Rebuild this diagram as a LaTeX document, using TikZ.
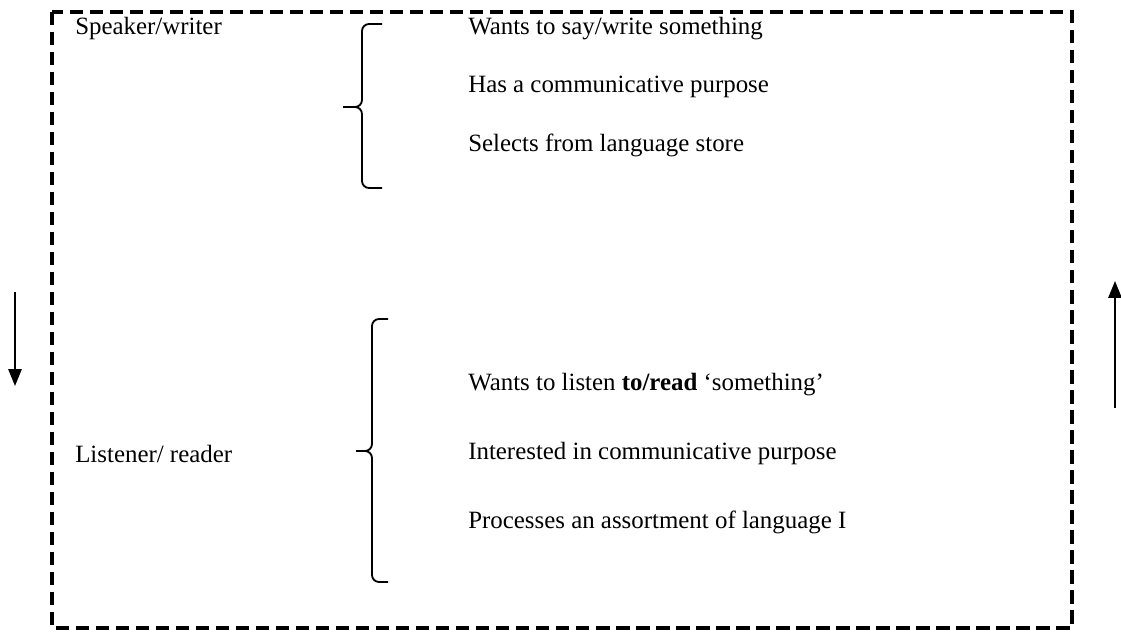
\documentclass[tikz,border=0pt]{standalone}
\usepackage{fontspec}
\setmainfont{Liberation Serif}
\usepackage{tikz}
\usetikzlibrary{arrows.meta,positioning}
\tikzset{frame/.style={draw, line width=2.5pt, dash pattern=on 0.33cm off 0.17cm},
  label text/.style={anchor=west, inner sep=0pt, font=\fontsize{17.7}{20}\selectfont},
  curly/.style={draw, line width=1.3pt, rounded corners=5pt},
  flow/.style={draw, line width=1.3pt, -{Triangle[length=0.42cm,width=0.33cm]}}
}

\begin{document}
\begin{tikzpicture}[x=0.025cm, y=-0.025cm]
    \useasboundingbox (0,0) rectangle (1121,632);
    \draw[frame] (52,12) rectangle (1072,628);

    \node[label text] (speaker) at (75,29) {Speaker/writer};
    \node[label text] (say) at (468,29) {Wants to say/write something};
    \node[label text] (purpose) at (468,87) {Has a communicative purpose};
    \node[label text] (select) at (468,145) {Selects from language store};

    \node[label text] (listener) at (75,454) {Listener/ reader};
    \node[label text] (listen) at (468,385) {Wants to listen \textbf{to/read} `something'};
    \node[label text] (interest) at (468,454) {Interested in communicative purpose};
    \node[label text] (process) at (468,522) {Processes an assortment of language I};

    % braces
    \draw[curly] (382,24) -- (362,24) -- (362,107) -- (343,107);
    \draw[curly] (343,107) -- (362,107) -- (362,188) -- (382,188);
    \draw[curly] (388,319) -- (372,319) -- (372,451) -- (356,451);
    \draw[curly] (356,451) -- (372,451) -- (372,582) -- (388,582);

    \coordinate (down top) at (15,292);
    \coordinate (down end) at (15,386);
    \coordinate (up bottom) at (1115,408);
    \coordinate (up end) at (1115,281);
    \draw[flow] (down top) -- (down end);
    \draw[flow] (up bottom) -- (up end);
\end{tikzpicture}
\end{document}
